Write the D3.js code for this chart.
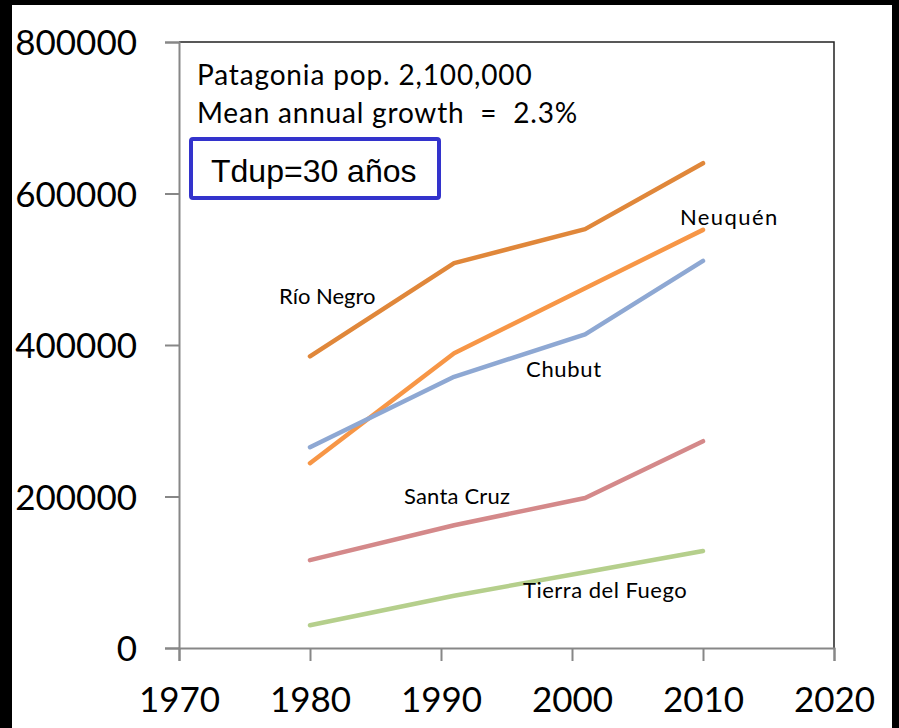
<!DOCTYPE html>
<html>
<head>
<meta charset="utf-8">
<script src="https://cdn.jsdelivr.net/npm/d3@7"></script>
<style>
  body { margin: 0; background: #000; }
  svg { display: block; }
</style>
</head>
<body>
<div id="chart"></div>
<script>
// census years and provincial population
var years = [1980, 1991, 2001, 2010];
var rioNegro = [385000, 508000, 553000, 640000];
var neuquen = [244000, 389000, 475000, 552000];
var chubut = [265000, 358000, 414000, 511000];
var santaCruz = [116000, 162000, 198000, 273000];
var tierraDelFuego = [30000, 69000, 100000, 128000];

var xTicks = [1970, 1980, 1990, 2000, 2010, 2020];
var yTicks = [0, 200000, 400000, 600000, 800000];

var series = [
  {name: "Río Negro", values: rioNegro, color: "#E0873A", lx: 279, ly: 304, ls: 0},
  {name: "Neuquén", values: neuquen, color: "#F79646", lx: 680, ly: 225, ls: 1.4},
  {name: "Chubut", values: chubut, color: "#8EA8D3", lx: 526, ly: 377, ls: 0.7},
  {name: "Santa Cruz", values: santaCruz, color: "#D4898A", lx: 404, ly: 504, ls: 0.2},
  {name: "Tierra del Fuego", values: tierraDelFuego, color: "#B5CF8C", lx: 523, ly: 598, ls: 0.5}
];

var width = 899, height = 728;
var margin = {top: 42, right: 65, bottom: 80, left: 179};
var font = "Lato, 'Open Sans', sans-serif";

var svg = d3.select("#chart").append("svg")
    .attr("width", width)
    .attr("height", height);

// black frame around the slide
svg.append("rect").attr("width", width).attr("height", height).attr("fill", "#000");
svg.append("rect").attr("x", 12).attr("y", 5).attr("width", 880).attr("height", height - 5).attr("fill", "#fff");

var x = d3.scaleLinear().domain([1970, 2020]).range([margin.left, width - margin.right]);
var y = d3.scaleLinear().domain([0, 800000]).range([height - margin.bottom, margin.top]);

// plot border top and right
svg.append("path")
    .attr("d", "M" + x(1970) + "," + y(800000) + "H" + x(2020) + "V" + y(0))
    .attr("fill", "none")
    .attr("stroke", "#222")
    .attr("stroke-width", 1.5);

var xAxis = svg.append("g")
    .attr("transform", "translate(0," + y(0) + ")")
    .call(d3.axisBottom(x).tickValues(xTicks).tickFormat(d3.format("d")).tickSize(13).tickPadding(26));

var yAxis = svg.append("g")
    .attr("transform", "translate(" + x(1970) + ",0)")
    .call(d3.axisLeft(y).tickValues(yTicks).tickFormat(d3.format("d")).tickSize(14).tickPadding(28));

[xAxis, yAxis].forEach(function(g){
  g.select(".domain").attr("stroke", "#878787").attr("stroke-width", 2);
  g.selectAll(".tick line").attr("stroke", "#878787").attr("stroke-width", 2);
  g.selectAll(".tick text")
    .attr("fill", "#000")
    .style("font-family", font)
    .style("font-size", "35px");
});
yAxis.selectAll(".tick text").attr("dy", "0.36em");

var line = d3.line()
    .x(function(d, i){ return x(years[i]); })
    .y(function(d){ return y(d); });

series.forEach(function(s){
  svg.append("path")
      .datum(s.values)
      .attr("d", line)
      .attr("fill", "none")
      .attr("stroke", s.color)
      .attr("stroke-width", 4.5)
      .attr("stroke-linecap", "round")
      .attr("stroke-linejoin", "round");

  svg.append("text")
      .attr("x", s.lx)
      .attr("y", s.ly)
      .text(s.name)
      .style("letter-spacing", s.ls + "px")
      .style("font-family", font)
      .style("font-size", "22px");
});

// annotations
svg.append("text").attr("x", 197).attr("y", 85)
    .text("Patagonia pop. 2,100,000")
    .style("letter-spacing", "0.85px")
    .style("font-family", font).style("font-size", "28px");
svg.append("text").attr("x", 197).attr("y", 123)
    .text("Mean annual growth  =  2.3%")
    .style("white-space", "pre")
    .style("letter-spacing", "0.8px")
    .style("font-family", font).style("font-size", "28px");

svg.append("rect")
    .attr("x", 191).attr("y", 139).attr("width", 248).attr("height", 59)
    .attr("rx", 2)
    .attr("fill", "#fff")
    .attr("stroke", "#3333CC")
    .attr("stroke-width", 4);
svg.append("text").attr("x", 211).attr("y", 182)
    .text("Tdup=30 años")
    .style("font-family", "'Liberation Sans', Arial, sans-serif").style("font-size", "32px");
</script>
</body>
</html>
